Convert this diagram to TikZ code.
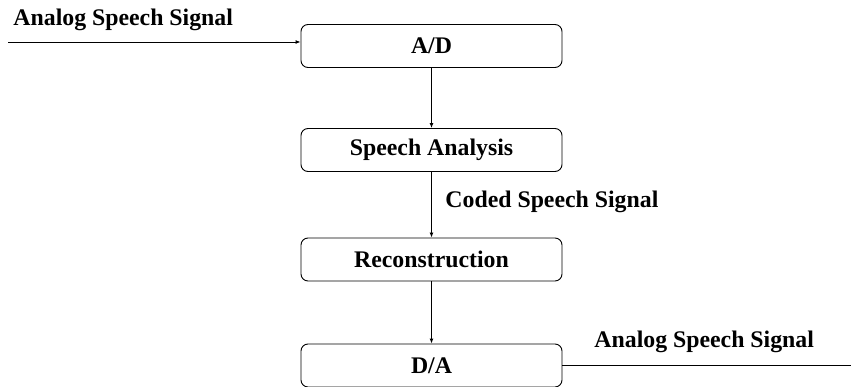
\documentclass[tikz,border=0pt]{standalone}
\usepackage{fontspec}
\setmainfont{Liberation Serif}
\usetikzlibrary{positioning,arrows.meta}

\begin{document}
\begin{tikzpicture}[x=1pt,y=-1pt,line width=0.9pt,
  font=\fontsize{23.8}{28}\selectfont\bfseries,>={Latex[length=5pt,width=4pt]},
  block/.style={draw,rounded corners=7pt,minimum width=261pt,minimum height=43pt,inner sep=0pt}]
  \useasboundingbox (0,0) rectangle (851,387);
  % the four stages
  \node[block] (ad) at (431.5,46) {A/D};
  \node[block] (sa) at (431.5,150) {Speech Analysis};
  \node[block] (rc) at (431.5,259.5) {Reconstruction};
  \node[block] (da) at (431.5,365.5) {D/A};
  \draw[->] (ad) -- (sa);
  \draw[->] (sa) -- (rc);
  \draw[->] (rc) -- (da);
  % signal in and out
  \coordinate (in) at (8,42);
  \coordinate (out) at (851,367);
  \draw[->] (in) -- (in -| ad.west);
  \draw (da.east) -- (da.east -| out);
  \node[anchor=west,inner sep=0pt] (inlbl) at (13,20) {Analog Speech Signal};
  \node[anchor=west,inner sep=0pt] (codlbl) at (445,202) {Coded Speech Signal};
  \node[anchor=west,inner sep=0pt] (outlbl) at (594,342) {Analog Speech Signal};
\end{tikzpicture}
\end{document}
